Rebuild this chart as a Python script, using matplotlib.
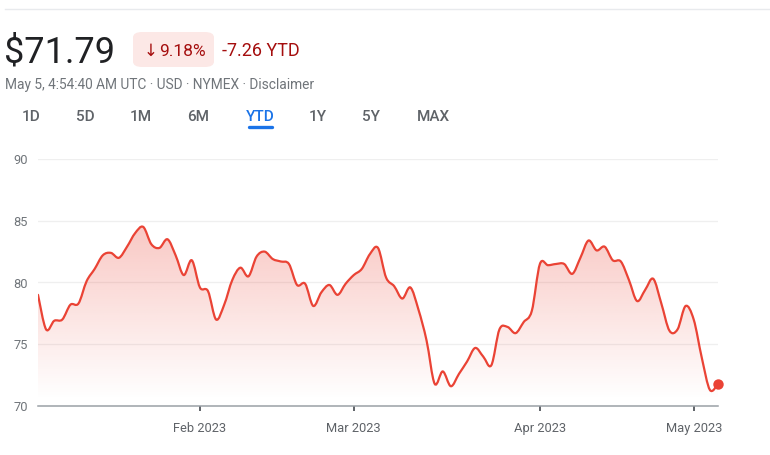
import matplotlib
matplotlib.use("Agg")
import matplotlib.pyplot as plt
import numpy as np
import pandas as pd
from matplotlib.path import Path
from matplotlib.patches import PathPatch, FancyBboxPatch
from matplotlib.lines import Line2D

plt.rcParams['font.family'] = ['Roboto', 'DejaVu Sans']

# ---------------- data ----------------
holidays = ['2023-01-16', '2023-02-20', '2023-04-07']
dates = pd.bdate_range('2023-01-03', '2023-05-04', freq='C', holidays=holidays)

prices = [79.0, 76.2, 76.9, 77.0, 78.2, 78.3, 80.1, 81.1, 82.2, 82.4,
          82.0, 82.9, 84.0, 84.5, 83.1, 82.8, 83.5, 82.2, 80.6, 81.8,
          79.6, 79.3, 77.0, 78.2, 80.2, 81.2, 80.5, 82.1, 82.5, 81.9,
          81.7, 81.5, 79.8, 79.9, 78.1, 79.2, 79.8, 79.0, 79.9, 80.6,
          81.1, 82.3, 82.8, 80.4, 79.7, 78.7, 79.6, 77.8, 75.3, 71.8,
          72.8, 71.6, 72.6, 73.6, 74.7, 74.0, 73.3, 76.2, 76.4, 75.9,
          76.8, 77.7, 81.5, 81.4, 81.5, 81.5, 80.7, 82.0, 83.4, 82.6,
          82.9, 81.8, 81.7, 80.2, 78.5, 79.4, 80.3, 78.3, 76.1, 76.2,
          78.1, 77.0, 73.9, 71.3, 71.79]

tick_months = [2, 3, 4, 5]
month_labels = ['Feb 2023', 'Mar 2023', 'Apr 2023', 'May 2023']
y_ticks = [70, 75, 80, 85, 90]
tabs = ['1D', '5D', '1M', '6M', 'YTD', '1Y', '5Y', 'MAX']
active_tab = 'YTD'

price_text = '$71.79'
pct_text = '9.18%'
ytd_text = '-7.26 YTD'
sub_text = 'May 5, 4:54:40 AM UTC · USD · NYMEX · Disclaimer'

# ---------------- figure ----------------
W, H = 770, 455
fig = plt.figure(figsize=(W / 100, H / 100), dpi=100)
fig.patch.set_facecolor('white')


def fx(x):
    return x / W


def fy(y):
    return 1 - y / H


RED = '#EA4335'
DARKRED = '#a50e0e'
GRAY = '#70757a'

ax = fig.add_axes([fx(38), fy(406), fx(718) - fx(38), fy(159) - fy(406)])
ax.set_facecolor('none')

n = len(prices)
xs = np.arange(n, dtype=float)
ys = np.asarray(prices, dtype=float)
pts = np.column_stack([xs, ys])

# smooth curve through data points (Catmull-Rom as cubic Bezier)
verts = [tuple(pts[0])]
codes = [Path.MOVETO]
for i in range(n - 1):
    p0 = pts[i - 1] if i > 0 else pts[i]
    p1 = pts[i]
    p2 = pts[i + 1]
    p3 = pts[i + 2] if i + 2 < n else pts[i + 1]
    c1 = p1 + (p2 - p0) / 6.0
    c2 = p2 - (p3 - p1) / 6.0
    verts += [tuple(c1), tuple(c2), tuple(p2)]
    codes += [Path.CURVE4] * 3

line_path = Path(verts, codes)
fill_verts = verts + [(xs[-1], 70), (xs[0], 70), tuple(pts[0])]
fill_codes = codes + [Path.LINETO, Path.LINETO, Path.CLOSEPOLY]
fill_path = Path(fill_verts, fill_codes)

clip_patch = PathPatch(fill_path, facecolor='none', edgecolor='none')
ax.add_patch(clip_patch)

# vertical gradient
gy = np.linspace(70, 90, 300)
alpha = np.clip((gy - 70.5) / (85 - 70.5), 0, 1) * 0.30
rgba = np.zeros((300, 2, 4))
rgba[..., 0] = 234 / 255
rgba[..., 1] = 67 / 255
rgba[..., 2] = 53 / 255
rgba[..., 3] = alpha[:, None]
im = ax.imshow(rgba, extent=[xs[0], xs[-1], 70, 90], origin='lower',
               aspect='auto', zorder=1, interpolation='bilinear')
im.set_clip_path(clip_patch)

ax.add_patch(PathPatch(line_path, facecolor='none', edgecolor=RED, lw=1.6,
                       zorder=3, capstyle='round', joinstyle='round'))
ax.plot([xs[-1]], [ys[-1]], 'o', ms=7.5, color=RED, clip_on=False, zorder=5,
        markeredgewidth=0)

ax.set_xlim(xs[0], xs[-1])
ax.set_ylim(70, 90)

# grid
for v in y_ticks[1:]:
    ax.axhline(v, color='#efefef', lw=0.9, zorder=0)

for s in ['top', 'right', 'left']:
    ax.spines[s].set_visible(False)
ax.spines['bottom'].set_color('#9aa0a6')
ax.spines['bottom'].set_linewidth(1.1)
ax.spines['bottom'].set_zorder(4)

ax.set_yticks(y_ticks)
ax.set_yticklabels([str(v) for v in y_ticks])
ax.tick_params(axis='y', length=0, pad=7.5, labelsize=9.3, labelcolor=GRAY)

tick_pos = [int(np.argmax(dates.month == m)) for m in tick_months]
ax.set_xticks(tick_pos)
ax.set_xticklabels(month_labels)
ax.tick_params(axis='x', length=3.8, width=1.4, color='#5f6368', pad=7.5,
               labelsize=9.3, labelcolor='#5f6368')

# ---------------- header ----------------
fig.add_artist(Line2D([fx(5), fx(770)], [fy(9), fy(9)], color='#e8eaed', lw=1))

fig.text(fx(4), fy(63), price_text, fontsize=26, color='#202124',
         va='baseline', ha='left')

badge = FancyBboxPatch((fx(133), fy(67)), fx(214) - fx(133), fy(32) - fy(67),
                       boxstyle='round,pad=0,rounding_size=0.012',
                       transform=fig.transFigure, facecolor='#fce8e6',
                       edgecolor='none')
fig.add_artist(badge)
fig.text(fx(144), fy(56), '↓', fontsize=12, color=DARKRED, va='baseline',
         ha='left', family=['DejaVu Sans'])
fig.text(fx(159), fy(56), pct_text, fontsize=12.5, color=DARKRED,
         va='baseline', ha='left')
fig.text(fx(222), fy(56), ytd_text, fontsize=13, color=DARKRED,
         va='baseline', ha='left')

fig.text(fx(5), fy(89), sub_text, fontsize=9.9, color=GRAY, va='baseline',
         ha='left')

tab_x = [31, 85.5, 141, 198, 260, 317.5, 371, 433]
for t, xc in zip(tabs, tab_x):
    col = '#1a73e8' if t == active_tab else '#5f6368'
    fig.text(fx(xc), fy(121), t, fontsize=11, color=col, va='baseline',
             ha='center', fontweight='medium')
    if t == active_tab:
        fig.add_artist(Line2D([fx(248.5), fx(271.5)], [fy(127), fy(127)],
                              color='#1a73e8', lw=2.4, solid_capstyle='round'))

fig.savefig('out.png', dpi=100, facecolor='white')
